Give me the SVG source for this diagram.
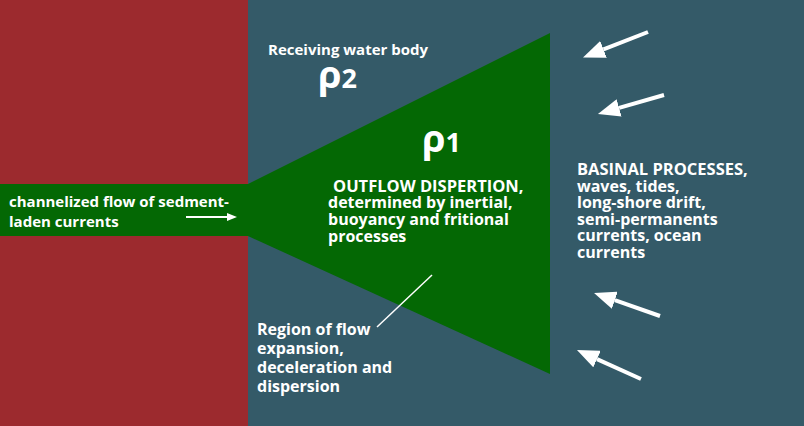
<svg xmlns="http://www.w3.org/2000/svg" width="804" height="426" viewBox="0 0 804 426">
<defs>
<style>
text{font-family:"Open Sans","Noto Sans","Liberation Sans",sans-serif;font-weight:700;fill:#ffffff}
.t15{font-size:15px}
.t16{font-size:16px}
.cap{font-size:16.5px}
.rho{font-size:38px}
.sub{font-size:27px}
.arrow{stroke:#ffffff;stroke-width:4;fill:none}
</style>
<marker id="bighead" markerUnits="userSpaceOnUse" markerWidth="22" markerHeight="18" refX="0" refY="9" orient="auto">
<path d="M0,0 L22,9 L0,18 z" fill="#ffffff"/>
</marker>
<marker id="smallhead" markerUnits="userSpaceOnUse" markerWidth="10" markerHeight="8" refX="0" refY="4" orient="auto">
<path d="M0,0 L10,4 L0,8 z" fill="#ffffff"/>
</marker>
</defs>
<g id="background">
<rect x="0" y="0" width="248" height="426" fill="#9c2a2e"/>
<rect x="248" y="0" width="556" height="426" fill="#345a68"/>
</g>
<g id="outflow">
<polygon points="0,184 248,184 550,33 550,374 248,236 0,236" fill="#046804"/>
</g>
<g id="channel-label">
<text class="t15" x="9" y="207">channelized flow of sedment-</text>
<text class="t15" x="9" y="227">laden currents</text>
</g>
<g id="receiving">
<text class="t15" x="268" y="55">Receiving water body</text>
<text x="318" y="88"><tspan class="rho">ρ</tspan><tspan class="sub">2</tspan></text>
</g>
<g id="rho1">
<text x="422" y="152"><tspan class="rho">ρ</tspan><tspan class="sub">1</tspan></text>
</g>
<g id="outflow-label">
<text class="cap" x="333" y="192">OUTFLOW DISPERTION,</text>
<text class="t16" x="328" y="208">determined by inertial,</text>
<text class="t16" x="328" y="225">buoyancy and fritional</text>
<text class="t16" x="328" y="242">processes</text>
</g>
<g id="basinal">
<text class="cap" x="577" y="175">BASINAL PROCESSES,</text>
<text class="t16" x="577" y="192">waves, tides,</text>
<text class="t16" x="577" y="208">long-shore drift,</text>
<text class="t16" x="577" y="225">semi-permanents</text>
<text class="t16" x="577" y="241">currents, ocean</text>
<text class="t16" x="577" y="258">currents</text>
</g>
<g id="region-label">
<text class="t16" x="257" y="335">Region of flow</text>
<text class="t16" x="257" y="354">expansion,</text>
<text class="t16" x="257" y="373">deceleration and</text>
<text class="t16" x="257" y="392">dispersion</text>
</g>
<g id="connectors">
<line class="arrow" x1="648" y1="32" x2="603.5" y2="49.4" marker-end="url(#bighead)"/>
<line class="arrow" x1="664" y1="95" x2="619.1" y2="107.9" marker-end="url(#bighead)"/>
<line class="arrow" x1="660" y1="316" x2="614.8" y2="300.2" marker-end="url(#bighead)"/>
<line class="arrow" x1="641" y1="379" x2="597" y2="359.1" marker-end="url(#bighead)"/>
<line stroke="#ffffff" stroke-width="2" x1="186" y1="217" x2="227" y2="217" marker-end="url(#smallhead)"/>
<line stroke="#ffffff" stroke-width="1.5" x1="432" y1="275" x2="377" y2="327"/>
</g>
</svg>
